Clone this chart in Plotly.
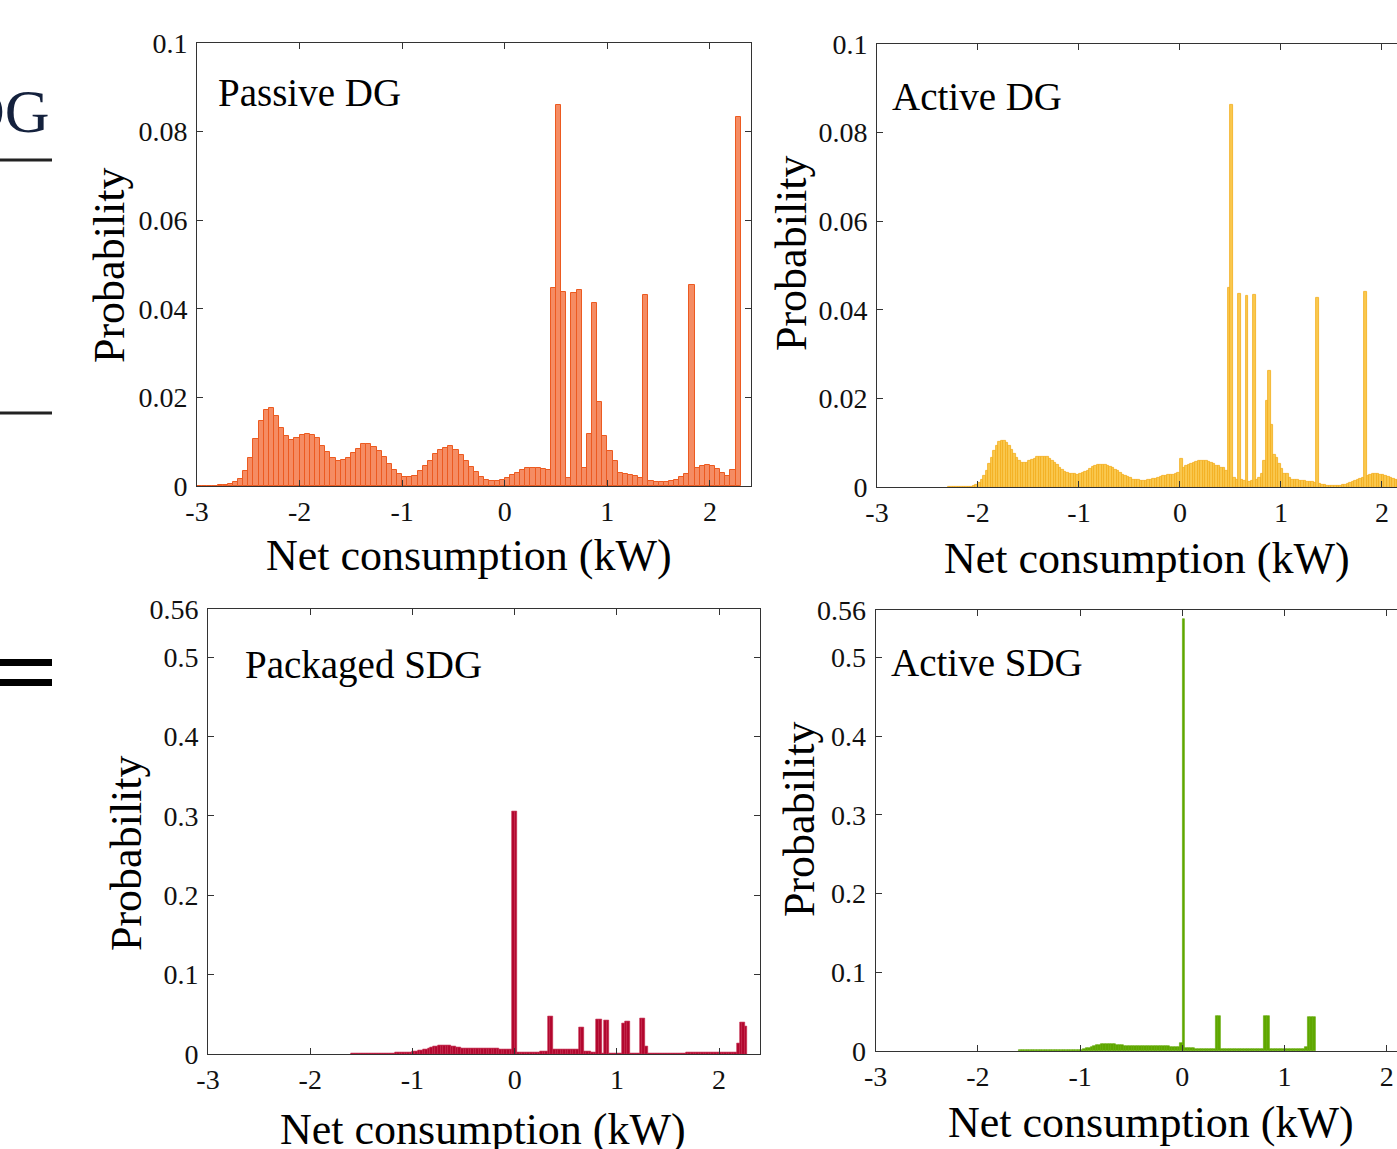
import plotly.graph_objects as go

W, H = 1397, 1149
SERIF = "Liberation Serif"

# ---------------- data ----------------
x_tick_vals = [-3, -2, -1, 0, 1, 2]
x_tick_text = ["-3", "-2", "-1", "0", "1", "2"]
y_ticks_top = [0, 0.02, 0.04, 0.06, 0.08, 0.1]
y_ticks_top_text = ["0", "0.02", "0.04", "0.06", "0.08", "0.1"]
y_ticks_bot = [0, 0.1, 0.2, 0.3, 0.4, 0.5, 0.56]
y_ticks_bot_text = ["0", "0.1", "0.2", "0.3", "0.4", "0.5", "0.56"]

panel_names = ["Passive DG", "Active DG", "Packaged SDG", "Active SDG"]
x_title = "Net consumption (kW)"
y_title = "Probability"

# Passive DG: bins of 0.05 kW starting at -3.0
passive_dg_start, passive_dg_width = -3.0, 0.05
passive_dg_prob = [
    0, 0, 0.0001, 0.0001, 0.0002, 0.0003, 0.0004, 0.0008, 0.0016, 0.0034,
    0.0064, 0.0106, 0.0146, 0.0172, 0.0175, 0.0157, 0.0131, 0.0113, 0.0103, 0.0109,
    0.0116, 0.0118, 0.0116, 0.0109, 0.0091, 0.0077, 0.0063, 0.0057, 0.0059, 0.0063,
    0.0075, 0.0084, 0.0094, 0.0095, 0.0089, 0.0079, 0.0065, 0.0050, 0.0036, 0.0026,
    0.0021, 0.0021, 0.0023, 0.0034, 0.0045, 0.0057, 0.0073, 0.0082, 0.0086, 0.0091,
    0.0082, 0.0070, 0.0057, 0.0044, 0.0032, 0.0021, 0.0014, 0.0012, 0.0012, 0.0014,
    0.0019, 0.0024, 0.0030, 0.0036, 0.0041, 0.0041, 0.0041, 0.0039, 0.0037, 0.0447,
    0.0860, 0.0438, 0.0019, 0.0436, 0.0443, 0.0041, 0.0118, 0.0414, 0.0190, 0.0112,
    0.0078, 0.0057, 0.0029, 0.0026, 0.0024, 0.0023, 0.0017, 0.0432, 0.0011, 0.0009,
    0.0008, 0.0009, 0.0011, 0.0014, 0.0020, 0.0027, 0.0453, 0.0041, 0.0046, 0.0048,
    0.0045, 0.0038, 0.0029, 0.0023, 0.0036, 0.0834,
]

# Active DG: bins of 0.025 kW starting at -2.3
active_dg_start, active_dg_width = -2.3, 0.025
active_dg_prob = [
    0.0001, 0.0001, 0.0001, 0.0001, 0.0001, 0.0001, 0.0001, 0.0001, 0.0002, 0.0002, 0.0004, 0.0006,
    0.0011, 0.0016, 0.0025, 0.0037, 0.0052, 0.0066, 0.0083, 0.0093, 0.0102, 0.0105,
    0.0105, 0.0101, 0.0094, 0.0085, 0.0075, 0.0066, 0.0060, 0.0056, 0.0056, 0.0056,
    0.0059, 0.0062, 0.0065, 0.0068, 0.0068, 0.0069, 0.0069, 0.0068, 0.0065, 0.0060,
    0.0055, 0.0050, 0.0045, 0.0040, 0.0035, 0.0032, 0.0031, 0.0030, 0.0030, 0.0029,
    0.0030, 0.0032, 0.0035, 0.0038, 0.0042, 0.0046, 0.0048, 0.0050, 0.0050, 0.0051,
    0.0050, 0.0049, 0.0046, 0.0043, 0.0040, 0.0037, 0.0033, 0.0029, 0.0026, 0.0023,
    0.0021, 0.0018, 0.0017, 0.0016, 0.0015, 0.0015, 0.0015, 0.0017, 0.0017, 0.0019,
    0.0020, 0.0022, 0.0023, 0.0025, 0.0026, 0.0028, 0.0029, 0.0029, 0.0030, 0.0032,
    0.0064, 0.0045, 0.0049, 0.0050, 0.0053, 0.0055, 0.0057, 0.0059, 0.0059, 0.0059,
    0.0059, 0.0057, 0.0056, 0.0053, 0.0049, 0.0048, 0.0044, 0.0043, 0.0038, 0.0450,
    0.0863, 0.0021, 0.0018, 0.0436, 0.0016, 0.0015, 0.0432, 0.0013, 0.0014, 0.0434,
    0.0016, 0.0022, 0.0030, 0.0059, 0.0195, 0.0262, 0.0140, 0.0073, 0.0067, 0.0053,
    0.0041, 0.0030, 0.0030, 0.0022, 0.0017, 0.0017, 0.0016, 0.0015, 0.0014, 0.0014,
    0.0013, 0.0013, 0.0012, 0.0011, 0.0428, 0.0008, 0.0006, 0.0005, 0.0004, 0.0004,
    0.0004, 0.0004, 0.0004, 0.0004, 0.0005, 0.0006, 0.0008, 0.0010, 0.0012, 0.0014,
    0.0016, 0.0019, 0.0022, 0.0441, 0.0027, 0.0029, 0.0030, 0.0030, 0.0030, 0.0029,
    0.0028, 0.0026, 0.0024, 0.0022, 0.0020, 0.0018, 0.0016, 0.0014,
]

# Packaged SDG: bins of 0.025 kW starting at -1.6
packaged_sdg_start, packaged_sdg_width = -1.6, 0.025
packaged_sdg_prob = [
    0.0006, 0.0006, 0.0007, 0.0007, 0.0007, 0.0008, 0.0008, 0.0008,
    0.0008, 0.0009, 0.0009, 0.0009, 0.0010, 0.0010, 0.0011, 0.0012,
    0.0013, 0.0014, 0.0015, 0.0017, 0.0018, 0.0020, 0.0022, 0.0025,
    0.0029, 0.0034, 0.0040, 0.0047, 0.0055, 0.0064, 0.0074, 0.0084,
    0.0093, 0.0101, 0.0107, 0.0110, 0.0111, 0.0109, 0.0104, 0.0097,
    0.0090, 0.0083, 0.0077, 0.0072, 0.0068, 0.0066, 0.0065, 0.0065,
    0.0066, 0.0067, 0.0069, 0.0070, 0.0071, 0.0071, 0.0071, 0.0070,
    0.0069, 0.0067, 0.0064, 0.0061, 0.0058, 0.0055, 0.0052,
    0.305, 0.305,
    0.0015, 0.0016, 0.0017, 0.0018, 0.0019, 0.0020, 0.0022, 0.0024, 0.0026, 0.0028, 0.0030, 0.0032,
    0.0475, 0.0475,
    0.0063, 0.0062, 0.0062, 0.0061, 0.0060, 0.0059, 0.0058, 0.0057, 0.0056, 0.0055,
    0.0336, 0.0336,
    0.0034, 0.0031, 0.0027, 0.0023, 0.0020,
    0.0437, 0.0437,
    0.0013,
    0.0420, 0.0420,
    0.0009, 0.0008, 0.0008, 0.0008, 0.0008,
    0.0380,
    0.0416, 0.0416,
    0.0008, 0.0008, 0.0008, 0.0008,
    0.0454, 0.0454,
    0.0097,
    0.0008, 0.0008, 0.0008, 0.0008, 0.0008, 0.0008, 0.0008, 0.0008, 0.0008, 0.0008,
    0.0009, 0.0010, 0.0011, 0.0012, 0.0013, 0.0014, 0.0015, 0.0016, 0.0017, 0.0017,
    0.0018, 0.0018, 0.0019, 0.0019, 0.0020, 0.0020, 0.0021, 0.0021, 0.0022, 0.0022,
    0.0022, 0.0023, 0.0023, 0.0023, 0.0024,
    0.0139,
    0.0400, 0.0400,
    0.0345,
]

# Active SDG: bins of 0.025 kW starting at -1.6
active_sdg_start, active_sdg_width = -1.6, 0.025
active_sdg_prob = [
    0.0012, 0.0012, 0.0012, 0.0012, 0.0012, 0.0012, 0.0012, 0.0012, 0.0012, 0.0012,
    0.0012, 0.0012, 0.0012, 0.0012, 0.0012, 0.0012, 0.0012, 0.0012, 0.0012, 0.0012,
    0.0013, 0.0013, 0.0014, 0.0015,
    0.0018, 0.0024, 0.0032, 0.0042, 0.0052, 0.0062, 0.0071, 0.0078,
    0.0083, 0.0087, 0.0089, 0.0089, 0.0087, 0.0084, 0.0080, 0.0076,
    0.0072, 0.0068, 0.0065, 0.0063, 0.0062, 0.0061, 0.0061, 0.0062,
    0.0063, 0.0064, 0.0065, 0.0066, 0.0066, 0.0066, 0.0065, 0.0064,
    0.0063, 0.0061, 0.0059, 0.0057, 0.0055, 0.0053, 0.0052,
    0.0102,
    0.548,
    0.0040, 0.0036, 0.0034, 0.0032, 0.0031, 0.0030, 0.0030, 0.0030, 0.0030, 0.0030, 0.0030, 0.0030,
    0.044, 0.044,
    0.0025, 0.0024, 0.0023, 0.0022, 0.0022, 0.0021, 0.0021, 0.0021, 0.0021, 0.0021,
    0.0022, 0.0022, 0.0023, 0.0024, 0.0025, 0.0026, 0.0027,
    0.045, 0.045,
    0.0030, 0.0030, 0.0030, 0.0030, 0.0030, 0.0030, 0.0030, 0.0030, 0.0030, 0.0030,
    0.0030, 0.0029, 0.0029, 0.0029,
    0.0045,
    0.0436, 0.0436, 0.0436,
]

assert len(passive_dg_prob) == 106
assert len(active_dg_prob) == 180
assert len(packaged_sdg_prob) == 155
assert len(active_sdg_prob) == 116


def centers(start, width, values):
    return [start + width * (i + 0.5) for i in range(len(values))]


def px(xp):
    return xp / W


def py(yp):
    return 1 - yp / H


fig = go.Figure()

series = [
    (passive_dg_start, passive_dg_width, passive_dg_prob, "#F58C63", "#EC5A20", 1.0, "x", "y"),
    (active_dg_start, active_dg_width, active_dg_prob, "#FAC84E", "#F2AC1A", 0.8, "x2", "y2"),
    (packaged_sdg_start, packaged_sdg_width, packaged_sdg_prob, "#B2062E", "#C32446", 0.6, "x3", "y3"),
    (active_sdg_start, active_sdg_width, active_sdg_prob, "#5FA800", "#5FA800", 0.6, "x4", "y4"),
]
for start, width, vals, fc, lc, lw, xa, ya in series:
    fig.add_trace(go.Bar(
        x=centers(start, width, vals), y=vals, width=width,
        marker=dict(color=fc, line=dict(color=lc, width=lw)),
        xaxis=xa, yaxis=ya, showlegend=False, hoverinfo="skip",
    ))

AX = "#333333"
tickfont = dict(family=SERIF, size=28, color="#111111")


def xaxis(domain, rng, anchor):
    return dict(domain=domain, range=rng, anchor=anchor, showgrid=False, zeroline=False,
                showline=True, linecolor=AX, linewidth=1, mirror="ticks",
                ticks="inside", ticklen=6, tickcolor=AX, tickwidth=1,
                tickvals=x_tick_vals, ticktext=x_tick_text, tickfont=tickfont,
                automargin=False, fixedrange=True)


def yaxis(domain, rng, anchor, tv, tt, mirror):
    return dict(domain=domain, range=rng, anchor=anchor, showgrid=False, zeroline=False,
                showline=True, linecolor=AX, linewidth=1, mirror=mirror,
                ticks="inside", ticklen=6, tickcolor=AX, tickwidth=1,
                tickvals=tv, ticktext=tt, tickfont=tickfont, ticklabelstandoff=3,
                automargin=False, fixedrange=True)


fig.update_layout(
    width=W, height=H,
    margin=dict(l=0, r=0, t=0, b=0, pad=0, autoexpand=False),
    paper_bgcolor="white", plot_bgcolor="white",
    bargap=0,
    xaxis=xaxis([px(197), px(751)], [-3, 2.4], "y"),
    yaxis=yaxis([py(486), py(43)], [0, 0.1], "x", y_ticks_top, y_ticks_top_text, "ticks"),
    xaxis2=xaxis([px(877), 1.0], [-3, 2.149], "y2"),
    yaxis2=yaxis([py(487.3), py(43.8)], [0, 0.1], "x2", y_ticks_top, y_ticks_top_text, False),
    xaxis3=xaxis([px(208), px(760)], [-3, 2.4], "y3"),
    yaxis3=yaxis([py(1054), py(609.4)], [0, 0.56], "x3", y_ticks_bot, y_ticks_bot_text, "ticks"),
    xaxis4=xaxis([px(875.7), 1.0], [-3, 2.10], "y4"),
    yaxis4=yaxis([py(1051), py(610)], [0, 0.56], "x4", y_ticks_bot, y_ticks_bot_text, False),
)

ann = []
# panel labels
label_pos = [(216, 93), (890, 97), (243, 665), (889, 662)]
for name, (lx, ly) in zip(panel_names, label_pos):
    ann.append(dict(text=name, x=px(lx), y=py(ly), xref="paper", yref="paper",
                    xanchor="left", yanchor="middle", showarrow=False,
                    font=dict(family=SERIF, size=39, color="black")))
# axis titles
xt_pos = [(469, 555), (1147, 558), (483, 1129), (1151, 1122)]
for (tx, ty) in xt_pos:
    ann.append(dict(text=x_title, x=px(tx), y=py(ty), xref="paper", yref="paper",
                    xanchor="center", yanchor="middle", showarrow=False,
                    font=dict(family=SERIF, size=44, color="black")))
yt_pos = [(109, 265), (792, 253), (126, 853), (799, 819)]
for (tx, ty) in yt_pos:
    ann.append(dict(text=y_title, x=px(tx), y=py(ty), xref="paper", yref="paper",
                    xanchor="center", yanchor="middle", showarrow=False, textangle=-90,
                    font=dict(family=SERIF, size=44, color="black")))
# cropped fragment at left edge
ann.append(dict(text="DG", x=px(52), y=py(111), xref="paper", yref="paper",
                xanchor="right", yanchor="middle", showarrow=False,
                font=dict(family=SERIF, size=62, color="#14213d")))
fig.update_layout(annotations=ann)

shapes = [
    dict(type="line", xref="paper", yref="paper", x0=0, x1=px(52), y0=py(160), y1=py(160),
         line=dict(color="#222222", width=3)),
    dict(type="line", xref="paper", yref="paper", x0=0, x1=px(52), y0=py(413), y1=py(413),
         line=dict(color="#222222", width=3)),
    dict(type="rect", xref="paper", yref="paper", x0=0, x1=px(52), y0=py(666), y1=py(659),
         fillcolor="black", line=dict(width=0)),
    dict(type="rect", xref="paper", yref="paper", x0=0, x1=px(52), y0=py(686), y1=py(679),
         fillcolor="black", line=dict(width=0)),
]
fig.update_layout(shapes=shapes)

fig.write_html(
    "out.html",
    config={"displayModeBar": False},
    post_script="document.body.style.margin='0';document.body.style.padding='0';"
                "document.body.style.overflow='hidden';",
)
